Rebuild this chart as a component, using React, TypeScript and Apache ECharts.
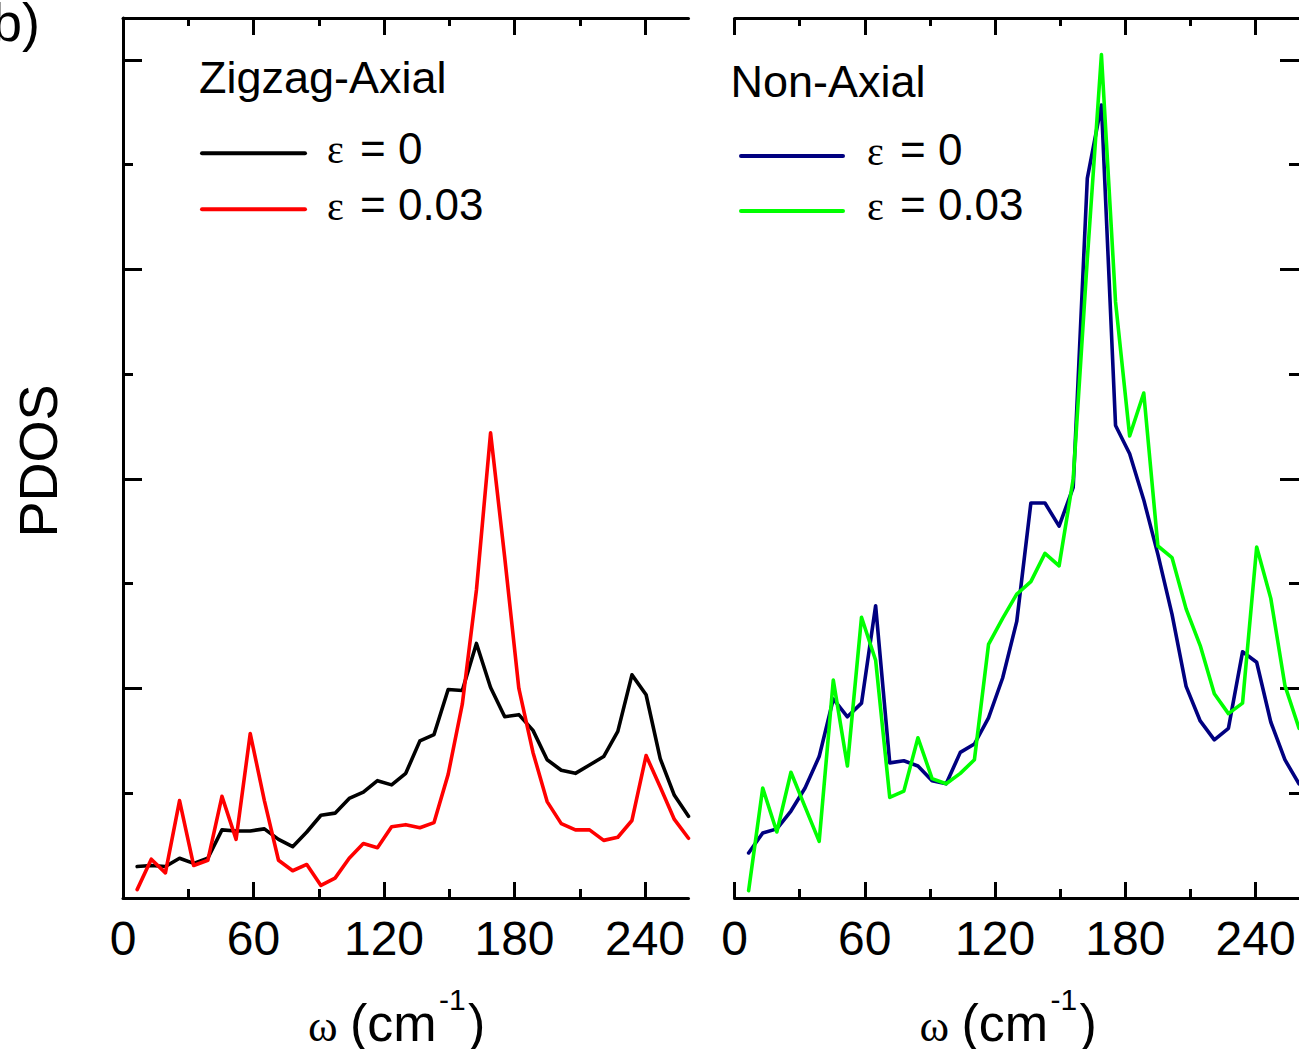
import React, { useEffect, useRef } from "react";
import * as echarts from "echarts";

// Phonon frequency grid (cm^-1)
const omega = [
  6.5, 13, 19.5, 26, 32.5, 39, 45.5, 52, 58.5, 65, 71.5, 78, 84.5, 91, 97.5, 104, 110.5, 117, 123.5, 130,
  136.5, 143, 149.5, 156, 162.5, 169, 175.5, 182, 188.5, 195, 201.5, 208, 214.5, 221, 227.5, 234, 240.5, 247, 253.5, 260,
];

// Zigzag-axial PDOS
const zigzagStrain0 = [
  0.3, 0.31, 0.3, 0.38, 0.33, 0.38, 0.65, 0.64, 0.64, 0.66, 0.56, 0.49, 0.63, 0.79, 0.81, 0.95, 1.01, 1.12, 1.08, 1.19,
  1.5, 1.56, 1.99, 1.98, 2.43, 2.01, 1.73, 1.75, 1.6, 1.32, 1.22, 1.19, 1.27, 1.35, 1.59, 2.13, 1.94, 1.33, 0.98, 0.78,
];
const zigzagStrain003 = [
  0.08, 0.37, 0.24, 0.93, 0.31, 0.36, 0.97, 0.56, 1.57, 0.93, 0.36, 0.26, 0.32, 0.12, 0.19, 0.38, 0.52, 0.48, 0.68, 0.7,
  0.67, 0.72, 1.18, 1.85, 2.94, 4.44, 3.25, 2.0, 1.39, 0.92, 0.71, 0.65, 0.65, 0.55, 0.58, 0.74, 1.36, 1.06, 0.75, 0.57,
];

// Non-axial PDOS
const nonAxialStrain0 = [
  0.43, 0.62, 0.66, 0.83, 1.05, 1.35, 1.9, 1.73, 1.86, 2.79, 1.29, 1.31, 1.26, 1.12, 1.09, 1.39, 1.47, 1.72, 2.1, 2.64,
  3.77, 3.77, 3.55, 3.92, 6.87, 7.57, 4.51, 4.24, 3.8, 3.28, 2.71, 2.02, 1.69, 1.51, 1.62, 2.35, 2.25, 1.68, 1.32, 1.09,
];
const nonAxialStrain003 = [
  0.07, 1.05, 0.63, 1.2, 0.87, 0.54, 2.08, 1.26, 2.68, 2.27, 0.96, 1.02, 1.53, 1.14, 1.09, 1.19, 1.32, 2.42, 2.67, 2.9,
  3.02, 3.29, 3.17, 4.0, 6.1, 8.05, 5.69, 4.41, 4.82, 3.36, 3.25, 2.76, 2.41, 1.95, 1.76, 1.86, 3.35, 2.86, 2.03, 1.62,
];

// Axis ticks
const xMajorTicks = [0, 60, 120, 180, 240];
const xMinorTicks = [30, 90, 150, 210];
const yMajorTicks = [2, 4, 6, 8];
const yMinorTicks = [1, 3, 5, 7];

const X_MAX = 260;
const Y_MAX = 8.4;

const SANS = '"Liberation Sans", Arial, sans-serif';
const SERIF = '"Liberation Serif", "Times New Roman", serif';

const AXIS_COLOR = "#000";

function xAxisDef(grid: number, position: string, ticks: number[], len: number, showLine: boolean, showLabels: boolean) {
  return {
    type: "value",
    gridIndex: grid,
    position,
    min: 0,
    max: X_MAX,
    axisLine: { show: showLine, onZero: false, lineStyle: { color: AXIS_COLOR, width: 3 } },
    axisTick: { show: true, inside: true, length: len, customValues: ticks, lineStyle: { color: AXIS_COLOR, width: 3 } },
    axisLabel: showLabels
      ? { show: true, customValues: xMajorTicks, margin: 16, fontSize: 48, color: "#000", fontFamily: SANS }
      : { show: false },
    splitLine: { show: false },
  };
}

function yAxisDef(grid: number, position: string, ticks: number[], len: number, showLine: boolean) {
  return {
    type: "value",
    gridIndex: grid,
    position,
    min: 0,
    max: Y_MAX,
    axisLine: { show: showLine, onZero: false, lineStyle: { color: AXIS_COLOR, width: 3 } },
    axisTick: { show: true, inside: true, length: len, customValues: ticks, lineStyle: { color: AXIS_COLOR, width: 3 } },
    axisLabel: { show: false },
    splitLine: { show: false },
  };
}

function lineSeries(xi: number, yi: number, values: number[], color: string, name: string) {
  return {
    type: "line",
    name,
    xAxisIndex: xi,
    yAxisIndex: yi,
    data: omega.map((w, i) => [w, values[i]]),
    showSymbol: false,
    symbol: "none",
    lineStyle: { color, width: 3.6, join: "round", cap: "round" },
    itemStyle: { color },
  };
}

// Text placed by its baseline (SVG text is centred on the em box)
function textAt(text: string, x: number, baseline: number, size: number, family = SANS, scaleX = 1, align = "left") {
  const k = family === SERIF ? 0.3375 : 0.3465;
  return {
    type: "text",
    x,
    y: baseline - k * size,
    scaleX,
    silent: true,
    style: {
      text,
      fontSize: size,
      fontFamily: family,
      fill: "#000",
      align,
      verticalAlign: "middle",
      textAlign: align,
      textVerticalAlign: "middle",
    },
  };
}

function legendLine(x1: number, x2: number, y: number, color: string) {
  return {
    type: "line",
    silent: true,
    shape: { x1, y1: y, x2, y2: y },
    style: { stroke: color, lineWidth: 4, lineCap: "round" },
  };
}

function axisTitle(x0: number) {
  const base = 1041;
  return [
    textAt("ω", x0 + 185, base, 45, SERIF),
    textAt("(cm", x0 + 227, base, 52, SANS),
    textAt("-1", x0 + 316, 1010, 30, SANS),
    textAt(")", x0 + 345, base, 52, SANS),
  ];
}

const LEFT0 = 123;
const RIGHT0 = 734.5;
const PANEL_W = 565.5;

export default function App() {
  const ref = useRef<HTMLDivElement>(null);

  useEffect(() => {
    if (!ref.current) return;
    const chart = echarts.init(ref.current, undefined, { renderer: "svg" });

    const graphic: any[] = [
      textAt("b)", -8, 41, 54),
      {
        type: "text",
        x: 38,
        y: 461,
        rotation: Math.PI / 2,
        silent: true,
        style: {
          text: "PDOS",
          fontSize: 54,
          fontFamily: SANS,
          fill: "#000",
          align: "center",
          verticalAlign: "middle",
          textAlign: "center",
          textVerticalAlign: "middle",
        },
      },
      // left panel legend
      textAt("Zigzag-Axial", 199, 92.7, 45),
      legendLine(202, 305, 153.3, "#000000"),
      legendLine(202, 305, 209.3, "#ff0000"),
      textAt("ε", 327, 163.3, 40, SERIF),
      textAt("= 0", 360, 163.3, 44),
      textAt("ε", 327, 220, 40, SERIF),
      textAt("= 0.03", 360, 220, 44),
      // right panel legend
      textAt("Non-Axial", 730.5, 97.3, 45),
      legendLine(741, 843, 156, "#000080"),
      legendLine(741, 843, 211, "#00ff00"),
      textAt("ε", 867, 165, 40, SERIF),
      textAt("= 0", 900, 165, 44),
      textAt("ε", 867, 220, 40, SERIF),
      textAt("= 0.03", 900, 220, 44),
      ...axisTitle(LEFT0),
      ...axisTitle(RIGHT0),
    ];

    chart.setOption({
      animation: false,
      backgroundColor: "#fff",
      grid: [
        { left: LEFT0, top: 18, width: PANEL_W, height: 880, containLabel: false },
        { left: RIGHT0, top: 18, width: PANEL_W, height: 880, containLabel: false },
      ],
      xAxis: [
        xAxisDef(0, "bottom", xMajorTicks, 16, true, true),
        xAxisDef(0, "bottom", xMinorTicks, 9, false, false),
        xAxisDef(0, "top", xMajorTicks, 17, true, false),
        xAxisDef(0, "top", xMinorTicks, 8, false, false),
        xAxisDef(1, "bottom", xMajorTicks, 16, true, true),
        xAxisDef(1, "bottom", xMinorTicks, 9, false, false),
        xAxisDef(1, "top", xMajorTicks, 17, true, false),
        xAxisDef(1, "top", xMinorTicks, 8, false, false),
      ],
      yAxis: [
        yAxisDef(0, "left", yMajorTicks, 19, true),
        yAxisDef(0, "left", yMinorTicks, 10, false),
        yAxisDef(1, "right", yMajorTicks, 19, false),
        yAxisDef(1, "right", yMinorTicks, 10, false),
      ],
      series: [
        lineSeries(0, 0, zigzagStrain0, "#000000", "Zigzag-Axial ε = 0"),
        lineSeries(0, 0, zigzagStrain003, "#ff0000", "Zigzag-Axial ε = 0.03"),
        lineSeries(4, 2, nonAxialStrain0, "#000080", "Non-Axial ε = 0"),
        lineSeries(4, 2, nonAxialStrain003, "#00ff00", "Non-Axial ε = 0.03"),
      ],
      graphic,
    });

    return () => chart.dispose();
  }, []);

  return (
    <div
      ref={ref}
      style={{ position: "absolute", left: 0, top: 0, width: 1299, height: 1049, overflow: "hidden" }}
    />
  );
}
